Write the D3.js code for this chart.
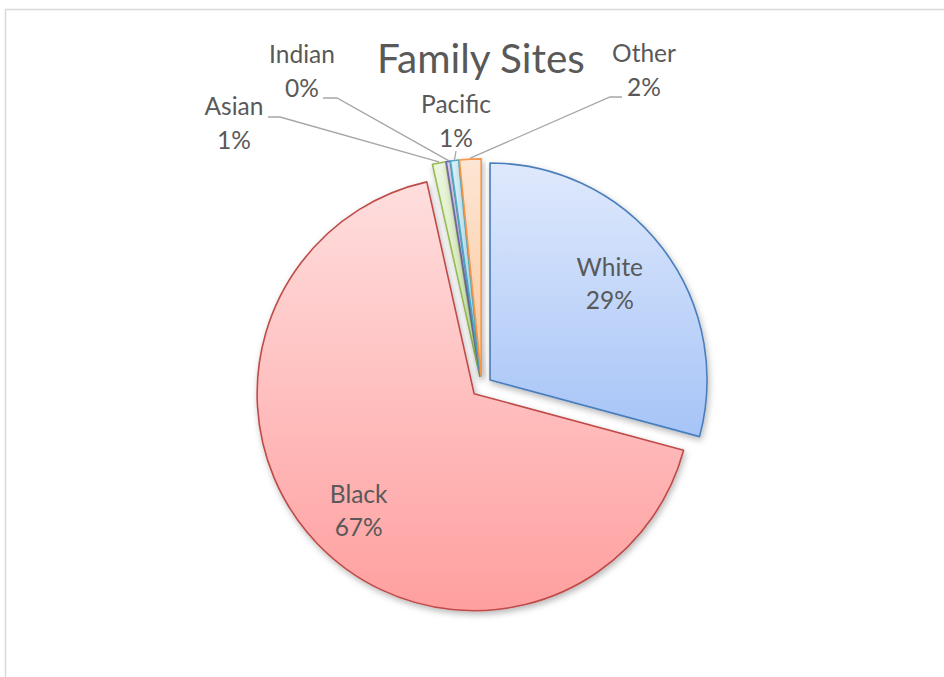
<!DOCTYPE html>
<html>
<head>
<meta charset="utf-8">
<script src="https://cdn.jsdelivr.net/npm/d3@7/dist/d3.min.js"></script>
<style>
  html, body { margin: 0; padding: 0; background: #ffffff; }
  svg { display: block; }
  text { font-family: Lato, "Open Sans", "Noto Sans", sans-serif; fill: #595959; }
</style>
</head>
<body>
<svg id="chart" width="944" height="677"></svg>
<script>
// Share of family sites by race (percent)
const categories = ["White", "Black", "Asian", "Indian", "Pacific", "Other"];
const shares = [29.2, 67.3, 1.0, 0.3, 0.6, 1.6];

// Slice colours: gradient top, gradient bottom, outline
const fillTop = ["#dfe9fc", "#ffdede", "#ecf6df", "#dcd6ea", "#d8f0f8", "#fde6d4"];
const fillBottom = ["#a6c4f7", "#ff9f9f", "#cbe6a6", "#b7a9d4", "#a6dcec", "#fbc79e"];
const strokes = ["#4a7ebb", "#be4b48", "#98b954", "#6f6aaa", "#4bacc6", "#f79646"];

const title = "Family Sites";

const svg = d3.select("#chart");
const W = 944, H = 677;

// chart area frame
svg.append("rect")
  .attr("x", 5.5).attr("y", 9.5)
  .attr("width", W + 20).attr("height", H + 20)
  .attr("fill", "#ffffff")
  .attr("stroke", "#d9d9d9")
  .attr("stroke-width", 1.5);

const defs = svg.append("defs");

const shadow = defs.append("filter")
  .attr("id", "sliceShadow")
  .attr("x", "-20%").attr("y", "-20%")
  .attr("width", "140%").attr("height", "140%");
shadow.append("feDropShadow")
  .attr("dx", 1.5).attr("dy", 3)
  .attr("stdDeviation", 3)
  .attr("flood-color", "#000000")
  .attr("flood-opacity", 0.28);

categories.forEach((c, i) => {
  const g = defs.append("linearGradient")
    .attr("id", "grad" + i)
    .attr("x1", 0).attr("y1", 0).attr("x2", 0).attr("y2", 1);
  g.append("stop").attr("offset", "0%").attr("stop-color", fillTop[i]);
  g.append("stop").attr("offset", "100%").attr("stop-color", fillBottom[i]);
});

// title
svg.append("text")
  .attr("x", 481).attr("y", 73)
  .attr("text-anchor", "middle")
  .style("font-size", "40.5px")
  .text(title);

const cx = 481.7, cy = 386.4;
const R = 217;
const explode = 10.5;

const pie = d3.pie().sort(null).value(d => d.value);
const slices = pie(categories.map((c, i) => ({ name: c, value: shares[i], i })));

const arc = d3.arc().innerRadius(0).outerRadius(R);

function offset(d) {
  const mid = (d.startAngle + d.endAngle) / 2;
  return [Math.sin(mid) * explode, -Math.cos(mid) * explode];
}
function outerPoint(d, r) {
  const mid = (d.startAngle + d.endAngle) / 2;
  const o = offset(d);
  return [cx + o[0] + Math.sin(mid) * r, cy + o[1] - Math.cos(mid) * r];
}

const pieG = svg.append("g");
pieG.selectAll("path.slice")
  .data(slices)
  .join("path")
  .attr("class", "slice")
  .attr("transform", d => {
    const o = offset(d);
    return `translate(${cx + o[0]},${cy + o[1]})`;
  })
  .attr("d", arc)
  .attr("fill", d => `url(#grad${d.data.i})`)
  .attr("stroke", d => strokes[d.data.i])
  .attr("stroke-width", 1.6)
  .attr("stroke-linejoin", "round")
  .attr("filter", "url(#sliceShadow)");

const pct = v => Math.round(v) + "%";
const labelSize = "24.5px";
const lineGap = 33;

// labels placed inside the two large slices, with small nudges
const insideNudge = { White: [-6, 0], Black: [-1, 8] };
const insideG = svg.append("g");
slices.filter(d => d.data.value > 10).forEach(d => {
  const p = outerPoint(d, R * 0.73);
  const n = insideNudge[d.data.name] || [0, 0];
  const x = p[0] + n[0], y = p[1] + n[1];
  const t = insideG.append("text")
    .attr("text-anchor", "middle")
    .style("font-size", labelSize);
  t.append("tspan").attr("x", x).attr("y", y - 8).text(d.data.name);
  t.append("tspan").attr("x", x).attr("y", y - 8 + lineGap).text(pct(d.data.value));
});

// callout labels for the small slices: text position, leader start and elbow
const callouts = {
  Asian:   { x: 234, y: 115, start: [268, 117], elbow: [280, 117] },
  Indian:  { x: 302, y: 63,  start: [323, 98],  elbow: [337, 98] },
  Pacific: { x: 456, y: 113, start: [456, 151], elbow: null },
  Other:   { x: 644, y: 62,  start: [622, 97],  elbow: [610, 97] }
};

const outG = svg.append("g");
slices.filter(d => callouts[d.data.name]).forEach(d => {
  const c = callouts[d.data.name];
  const end = outerPoint(d, R + 1);
  const pts = [c.start];
  if (c.elbow) pts.push(c.elbow);
  pts.push(end);
  outG.append("path")
    .attr("d", d3.line()(pts))
    .attr("fill", "none")
    .attr("stroke", "#a6a6a6")
    .attr("stroke-width", 1.3);
  const t = outG.append("text")
    .attr("text-anchor", "middle")
    .style("font-size", labelSize);
  t.append("tspan").attr("x", c.x).attr("y", c.y).text(d.data.name);
  t.append("tspan").attr("x", c.x).attr("y", c.y + lineGap + 1).text(pct(d.data.value));
});
</script>
</body>
</html>
